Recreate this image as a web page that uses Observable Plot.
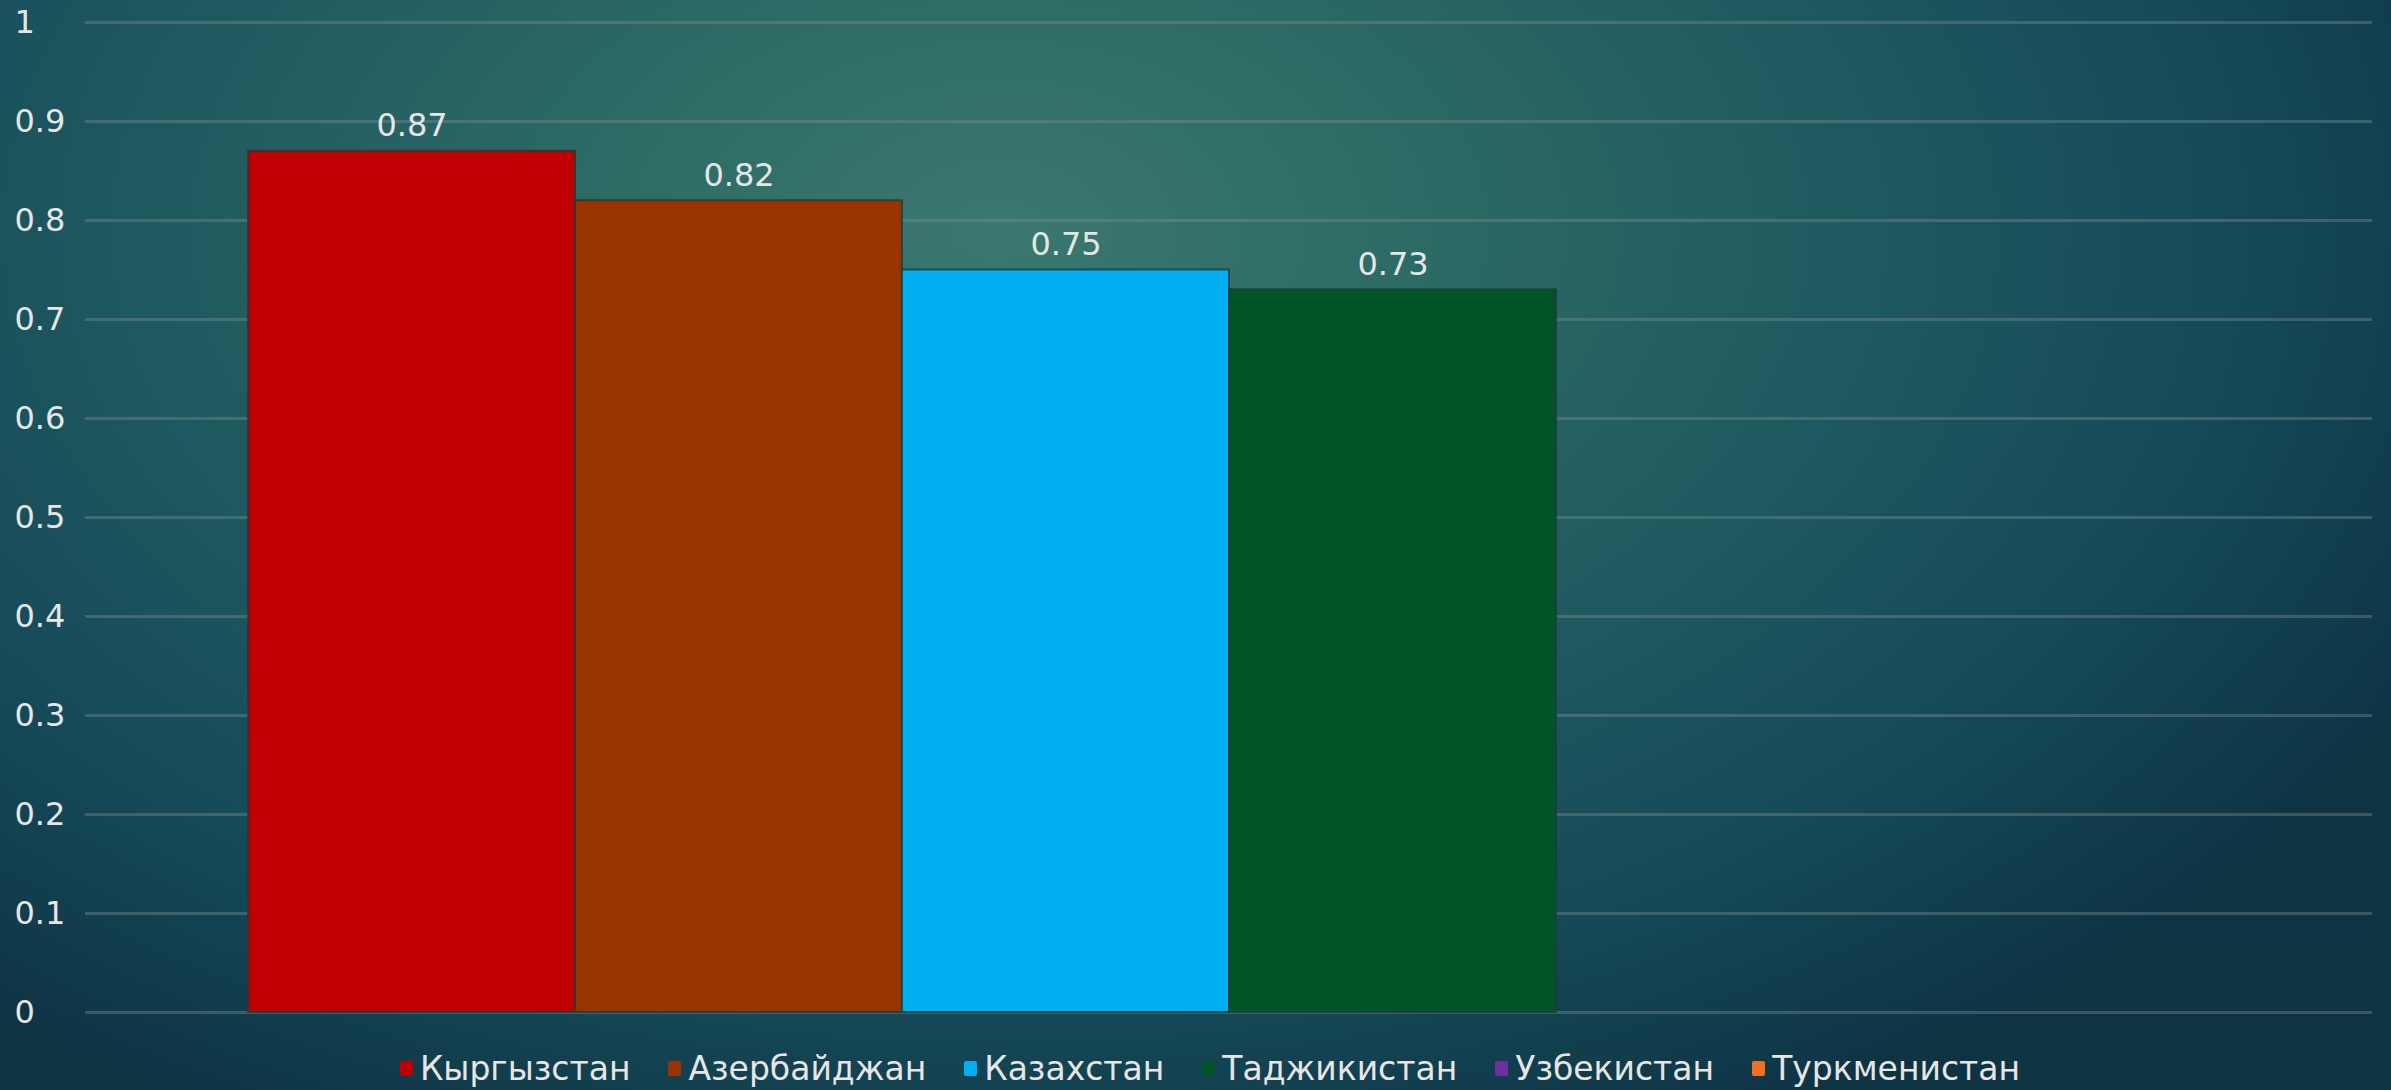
<!DOCTYPE html>
<html>
<head>
<meta charset="utf-8">
<script src="https://cdn.jsdelivr.net/npm/d3@7"></script>
<script src="https://cdn.jsdelivr.net/npm/@observablehq/plot@0.6"></script>
<style>
  html, body { margin: 0; padding: 0; }
  body {
    width: 2391px; height: 1090px; overflow: hidden;
    background: radial-gradient(ellipse 1600px 1000px at 1000px 230px, #3a7870 0%, #2b6964 28%, #1e5860 55%, #154958 78%, #0e3444 100%);
    font-family: "DejaVu Sans", sans-serif;
  }
  #chart svg { display: block; background: transparent; }
  #legend {
    position: absolute; left: 0; top: 1046px; width: 2391px; height: 44px;
    display: flex; justify-content: center; align-items: center; gap: 0;
    padding-left: 29px; box-sizing: border-box;
    color: #e6e6e6; font-size: 33px; font-family: "DejaVu Sans", sans-serif;
  }
  .item { display: flex; align-items: center; margin: 0 19px; }
  .sw { width: 13px; height: 15px; margin-right: 7px; border-radius: 2px; }
</style>
</head>
<body>
<div id="chart"></div>
<div id="legend"></div>
<script>
const countries = ["Кыргызстан", "Азербайджан", "Казахстан", "Таджикистан", "Узбекистан", "Туркменистан"];
const values = [0.87, 0.82, 0.75, 0.73, null, null];
const colors = ["#c00000", "#993300", "#00b0f0", "#005428", "#7030a0", "#f07020"];
const yTicks = [0, 0.1, 0.2, 0.3, 0.4, 0.5, 0.6, 0.7, 0.8, 0.9, 1];

const data = countries.map((c, i) => ({country: c, value: values[i]})).filter(d => d.value != null);
const fmt = d => String(+d.toFixed(2));

const chart = Plot.plot({
  width: 2391,
  height: 1040,
  marginLeft: 85,
  marginRight: 19,
  marginTop: 22,
  marginBottom: 28,
  style: {background: "transparent", fontFamily: "DejaVu Sans, sans-serif", fontSize: "31px", color: "#e6e6e6"},
  x: {domain: countries, paddingInner: 0, paddingOuter: 0.49, axis: null},
  y: {domain: [0, 1]},
  color: {domain: countries, range: colors},
  marks: [
    Plot.ruleY(yTicks, {stroke: "#7f8f8f", strokeOpacity: 0.4, strokeWidth: 3}),
    Plot.axisY(yTicks, {tickSize: 0, tickPadding: 71, textAnchor: "start", tickFormat: d => String(+d.toFixed(1)), fill: "#e6e6e6", fontSize: 32, label: null}),
    Plot.barY(data, {x: "country", y: "value", fill: "country", stroke: "#1d3c3a", strokeWidth: 2, strokeOpacity: 0.8, inset: 0}),
    Plot.text(data, {x: "country", y: "value", text: d => fmt(d.value), dy: -25, fill: "#e6e6e6", fontSize: 32, lineAnchor: "middle"})
  ]
});
document.getElementById("chart").appendChild(chart);

const legend = document.getElementById("legend");
countries.forEach((c, i) => {
  const item = document.createElement("div");
  item.className = "item";
  const sw = document.createElement("span");
  sw.className = "sw";
  sw.style.background = colors[i];
  const t = document.createElement("span");
  t.textContent = c;
  item.appendChild(sw);
  item.appendChild(t);
  legend.appendChild(item);
});
</script>
</body>
</html>
